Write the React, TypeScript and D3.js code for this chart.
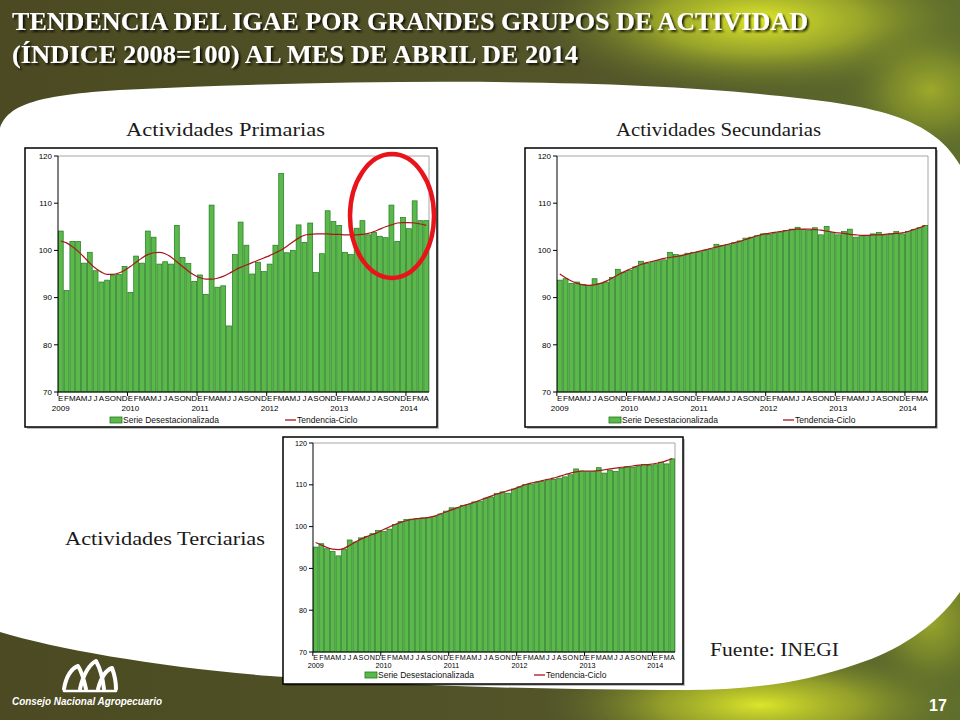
import * as d3 from 'd3';
import React from 'react';

// Months (E = enero ... D = diciembre), Jan 2009 - Apr 2014
const MONTHS = ['E', 'F', 'M', 'A', 'M', 'J', 'J', 'A', 'S', 'O', 'N', 'D'];
const YEARS = ['2009', '2010', '2011', '2012', '2013', '2014'];
const Y_TICKS = [70, 80, 90, 100, 110, 120];

// Actividades primarias
const primSerie = [
    104.1, 91.5, 101.9, 101.9, 97.3, 99.6, 95.7, 93.3, 93.7, 94.8, 94.9, 96.6,
    91.1, 98.8, 97.3, 104.1, 102.8, 97.1, 97.6, 97.1, 105.3, 98.5, 97.2, 93.4,
    94.8, 90.7, 109.6, 92.2, 92.5, 84.0, 99.1, 106.0, 101.1, 95.0, 97.5, 95.5,
    97.1, 101.1, 116.3, 99.5, 100.0, 105.4, 101.7, 105.8, 95.3, 99.3, 108.4, 106.1,
    105.3, 99.6, 99.1, 104.7, 106.3, 103.3, 103.8, 103.0, 102.7, 109.6, 101.9, 107.0,
    104.6, 110.5, 106.3, 106.3,
];
const primTrend = [
    102.0, 101.6, 100.8, 99.8, 98.6, 97.3, 96.2, 95.4, 94.9, 94.9, 95.2, 95.8,
    96.6, 97.5, 98.4, 99.1, 99.5, 99.6, 99.3, 98.6, 97.6, 96.6, 95.6, 94.8,
    94.2, 93.9, 93.9, 94.1, 94.5, 95.1, 95.8, 96.4, 96.9, 97.4, 97.9, 98.4,
    98.9, 99.5, 100.1, 100.9, 101.8, 102.6, 103.2, 103.4, 103.5, 103.5, 103.5, 103.4,
    103.4, 103.3, 103.3, 103.3, 103.4, 103.6, 104.0, 104.5, 105.0, 105.4, 105.8, 105.9,
    105.9, 105.8, 105.6, 105.3,
];

// Actividades secundarias
const secSerie = [
    93.7, 94.0, 93.0, 93.3, 92.8, 92.6, 94.0, 93.0, 93.3, 94.3, 96.0, 95.4,
    95.8, 96.5, 97.7, 97.3, 97.6, 97.8, 98.0, 99.6, 99.1, 99.0, 99.4, 99.6,
    99.7, 100.0, 100.3, 101.3, 101.0, 101.2, 101.6, 102.0, 102.6, 102.8, 103.1, 103.5,
    103.4, 103.7, 103.9, 104.2, 104.5, 104.9, 104.4, 104.2, 104.8, 103.3, 105.1, 103.8,
    103.3, 104.0, 104.5, 102.8, 103.1, 103.2, 103.5, 103.8, 103.3, 103.5, 104.0, 103.5,
    104.0, 104.4, 104.8, 105.3,
];
const secTrend = [
    95.0, 94.2, 93.5, 93.0, 92.7, 92.6, 92.7, 93.0, 93.5, 94.1, 94.8, 95.4,
    96.0, 96.5, 97.0, 97.4, 97.7, 98.0, 98.3, 98.5, 98.7, 98.9, 99.2, 99.5,
    99.8, 100.1, 100.4, 100.7, 101.0, 101.3, 101.6, 101.9, 102.3, 102.7, 103.1, 103.4,
    103.6, 103.8, 104.0, 104.2, 104.4, 104.5, 104.5, 104.5, 104.4, 104.3, 104.1, 103.9,
    103.7, 103.6, 103.4, 103.3, 103.2, 103.2, 103.3, 103.3, 103.4, 103.5, 103.6, 103.7,
    104.0, 104.4, 104.8, 105.3,
];

// Actividades terciarias
const terSerie = [
    95.1, 95.9, 94.7, 94.1, 93.0, 94.6, 96.8, 96.3, 97.3, 97.6, 98.3, 99.1,
    98.8, 99.4, 100.5, 101.2, 101.7, 101.8, 101.9, 102.1, 102.2, 102.4, 103.0, 103.7,
    104.5, 104.5, 105.1, 105.3, 105.9, 106.1, 106.8, 107.1, 107.9, 108.3, 108.0, 109.0,
    109.5, 110.1, 110.2, 110.6, 110.8, 111.2, 111.3, 111.6, 111.9, 112.4, 113.8, 113.3,
    113.2, 113.2, 114.1, 112.8, 113.5, 113.2, 114.0, 114.3, 114.2, 114.5, 114.9, 114.6,
    114.8, 115.4, 115.0, 116.2,
];
const terTrend = [
    96.2, 95.6, 95.0, 94.6, 94.5, 94.8, 95.5, 96.3, 97.0, 97.6, 98.1, 98.6,
    99.3, 99.9, 100.5, 101.0, 101.4, 101.7, 101.9, 102.0, 102.2, 102.5, 103.0, 103.5,
    104.0, 104.5, 105.0, 105.4, 105.8, 106.3, 106.8, 107.3, 107.8, 108.2, 108.6, 109.0,
    109.5, 110.0, 110.4, 110.7, 111.0, 111.3, 111.6, 112.0, 112.4, 112.8, 113.1, 113.3,
    113.3, 113.3, 113.4, 113.6, 113.8, 114.0, 114.2, 114.3, 114.5, 114.7, 114.8, 114.9,
    115.1, 115.4, 115.8, 116.3,
];

const SANS = 'Liberation Sans, Arial, sans-serif';
const SERIF = 'Liberation Serif, Times New Roman, serif';

interface Cfg {
    x: number; y: number; w: number; h: number;
    pl: number; pt: number; pw: number; ph: number;
    fs: number; monthDy: number; yearDy: number;
    legY: number; swatchX: number; lineX: number;
}

const cfgPrim: Cfg = { x: 25, y: 148, w: 412, h: 279, pl: 33, pt: 8, pw: 371, ph: 236, fs: 8, monthDy: 9, yearDy: 19, legY: 272, swatchX: 85, lineX: 260 };
const cfgSec: Cfg = { x: 525, y: 148, w: 411, h: 279, pl: 32, pt: 8, pw: 371, ph: 236, fs: 8, monthDy: 9, yearDy: 19, legY: 272, swatchX: 84, lineX: 258 };
const cfgTer: Cfg = { x: 283, y: 437, w: 400, h: 247, pl: 30, pt: 6, pw: 362, ph: 209, fs: 7.2, monthDy: 7.5, yearDy: 16, legY: 238, swatchX: 82, lineX: 251 };

function IgaeChart({ cfg, serie, trend }: { cfg: Cfg; serie: number[]; trend: number[] }) {
    const idx = d3.range(serie.length);
    const x = d3.scaleBand<number>().domain(idx).range([0, cfg.pw]).paddingInner(0.15).paddingOuter(0.05);
    const y = d3.scaleLinear().domain([70, 120]).range([cfg.ph, 0]);
    const bw = x.bandwidth();
    const cx = (i: number) => (x(i) ?? 0) + bw / 2;
    const edge = (i: number) => (x(i) ?? 0) - (x.step() - bw) / 2;
    const line = d3.line<number>().x((_, i) => cx(i)).y((d) => y(d)).curve(d3.curveMonotoneX);

    return (
        <g transform={`translate(${cfg.x},${cfg.y})`}>
            <rect x={2} y={2} width={cfg.w} height={cfg.h} fill="rgba(0,0,0,0.25)" />
            <rect width={cfg.w} height={cfg.h} fill="#fff" stroke="#000" strokeWidth={1.5} />
            <g transform={`translate(${cfg.pl},${cfg.pt})`} fontFamily={SANS}>
                <path d={`M0,0H${cfg.pw}V${cfg.ph}`} fill="none" stroke="#a6a6a6" strokeWidth={1} />
                {idx.map((i) => (
                    <rect
                        key={i}
                        x={x(i)}
                        y={y(serie[i])}
                        width={bw}
                        height={cfg.ph - y(serie[i])}
                        fill="#5ab94a"
                        stroke="#23781f"
                        strokeWidth={0.7}
                    />
                ))}
                <path d={line(trend) ?? ''} fill="none" stroke="#a8161b" strokeWidth={1.2} />
                <line x1={0} x2={0} y1={0} y2={cfg.ph} stroke="#000" />
                <line x1={0} x2={cfg.pw} y1={cfg.ph} y2={cfg.ph} stroke="#000" />
                {Y_TICKS.map((t) => (
                    <g key={t} transform={`translate(0,${y(t)})`}>
                        <line x1={-4} x2={0} stroke="#000" />
                        <text x={-6} dy="0.35em" fontSize={cfg.fs} textAnchor="end" fill="#000">{t}</text>
                    </g>
                ))}
                {idx.map((i) => (
                    <text key={i} x={cx(i)} y={cfg.ph + cfg.monthDy} fontSize={cfg.fs} textAnchor="middle" fill="#000">
                        {MONTHS[i % 12]}
                    </text>
                ))}
                {YEARS.map((yr, k) => (
                    <g key={yr}>
                        <line x1={edge(k * 12)} x2={edge(k * 12)} y1={cfg.ph} y2={cfg.ph + 4} stroke="#000" />
                        <text x={cx(k * 12)} y={cfg.ph + cfg.yearDy} fontSize={cfg.fs} textAnchor="middle" fill="#000">{yr}</text>
                    </g>
                ))}
            </g>
            <g fontFamily={SANS} fontSize={8.5}>
                <rect x={cfg.swatchX} y={cfg.legY - 3} width={12} height={6} fill="#5ab94a" stroke="#23781f" strokeWidth={0.8} />
                <text x={cfg.swatchX + 13} y={cfg.legY + 3} fill="#111">Serie Desestacionalizada</text>
                <line x1={cfg.lineX} x2={cfg.lineX + 11} y1={cfg.legY} y2={cfg.legY} stroke="#a8161b" strokeWidth={1.3} />
                <text x={cfg.lineX + 12} y={cfg.legY + 3} fill="#111">Tendencia-Ciclo</text>
            </g>
        </g>
    );
}

function Background() {
    return (
        <g>
            <defs>
                <linearGradient id="bg" x1="0" y1="0" x2="1" y2="0">
                    <stop offset="0" stopColor="#4b4a22" />
                    <stop offset="0.6" stopColor="#535529" />
                    <stop offset="1" stopColor="#5d6d2c" />
                </linearGradient>
                <radialGradient id="hlTop" cx="0.5" cy="0.5" r="0.5">
                    <stop offset="0" stopColor="#dfe82a" />
                    <stop offset="0.45" stopColor="#a7b42a" stopOpacity={0.8} />
                    <stop offset="1" stopColor="#5d6d2c" stopOpacity={0} />
                </radialGradient>
                <radialGradient id="hlBot" cx="0.5" cy="0.5" r="0.5">
                    <stop offset="0" stopColor="#dbe52a" />
                    <stop offset="0.45" stopColor="#a2ae2a" stopOpacity={0.8} />
                    <stop offset="1" stopColor="#5d6d2c" stopOpacity={0} />
                </radialGradient>
                <filter id="shadow" x="-5%" y="-20%" width="110%" height="160%">
                    <feDropShadow dx="2" dy="2" stdDeviation="1.2" floodColor="#000" floodOpacity="0.8" />
                </filter>
            </defs>
            <rect width={960} height={720} fill="url(#bg)" />
            <ellipse cx={760} cy={20} rx={230} ry={75} fill="url(#hlTop)" />
            <ellipse cx={930} cy={90} rx={90} ry={70} fill="url(#hlTop)" opacity={0.5} />
            <ellipse cx={760} cy={705} rx={220} ry={60} fill="url(#hlBot)" />
            <ellipse cx={930} cy={620} rx={70} ry={80} fill="url(#hlBot)" opacity={0.5} />
            <path
                d="M0,128 C8,104 40,95 120,90 C350,79 600,78 760,94 C860,104 930,112 960,165
                   L960,592 C935,628 895,652 857,664 C800,684 745,690 686,690
                   C560,690 400,686 270,676 C160,667 60,650 0,632 Z"
                fill="#fff"
            />
        </g>
    );
}

function Logo() {
    return (
        <g stroke="#fff" strokeWidth={4} fill="none" strokeLinejoin="round" strokeLinecap="round">
            <path d="M64,689 C66,676 72,668 78,666 C82,672 84,680 86,689" />
            <path d="M80,689 C83,674 90,664 96,661 C101,670 103,680 104,689" />
            <path d="M98,689 C101,678 106,670 112,668 C115,676 116,683 116,689" />
            <path d="M64,691 H116" strokeWidth={2.5} />
        </g>
    );
}

export default function App() {
    return (
        <div style={{ position: 'absolute', left: 0, top: 0 }}>
            <svg width={960} height={720} viewBox="0 0 960 720" style={{ display: 'block' }}>
                <Background />
                <g fontFamily={SERIF} fontWeight={700} fill="#fff" fontSize={25} filter="url(#shadow)">
                    <text x={12} y={30} textLength={796} lengthAdjust="spacingAndGlyphs">
                        TENDENCIA DEL IGAE POR GRANDES GRUPOS DE ACTIVIDAD
                    </text>
                    <text x={12} y={63} textLength={566} lengthAdjust="spacingAndGlyphs">
                        (ÍNDICE 2008=100) AL MES DE ABRIL DE 2014
                    </text>
                </g>
                <g fontFamily={SERIF} fontSize={19} fill="#1a1a1a">
                    <text x={126} y={136} textLength={199} lengthAdjust="spacingAndGlyphs">Actividades Primarias</text>
                    <text x={616} y={136} textLength={205} lengthAdjust="spacingAndGlyphs">Actividades Secundarias</text>
                    <text x={65} y={545} textLength={200} lengthAdjust="spacingAndGlyphs">Actividades Terciarias</text>
                    <text x={710} y={656} textLength={129} lengthAdjust="spacingAndGlyphs">Fuente: INEGI</text>
                </g>
                <IgaeChart cfg={cfgPrim} serie={primSerie} trend={primTrend} />
                <IgaeChart cfg={cfgSec} serie={secSerie} trend={secTrend} />
                <IgaeChart cfg={cfgTer} serie={terSerie} trend={terTrend} />
                <ellipse cx={392} cy={216} rx={42} ry={62} fill="none" stroke="#e8141b" strokeWidth={4.5} />
                <Logo />
                <text x={12} y={705} fontFamily={SANS} fontWeight={700} fontStyle="italic" fontSize={10}
                    fill="#fff" textLength={150} lengthAdjust="spacingAndGlyphs">
                    Consejo Nacional Agropecuario
                </text>
                <text x={929} y={711} fontFamily={SANS} fontWeight={700} fontSize={16} fill="#fff">17</text>
            </svg>
        </div>
    );
}
